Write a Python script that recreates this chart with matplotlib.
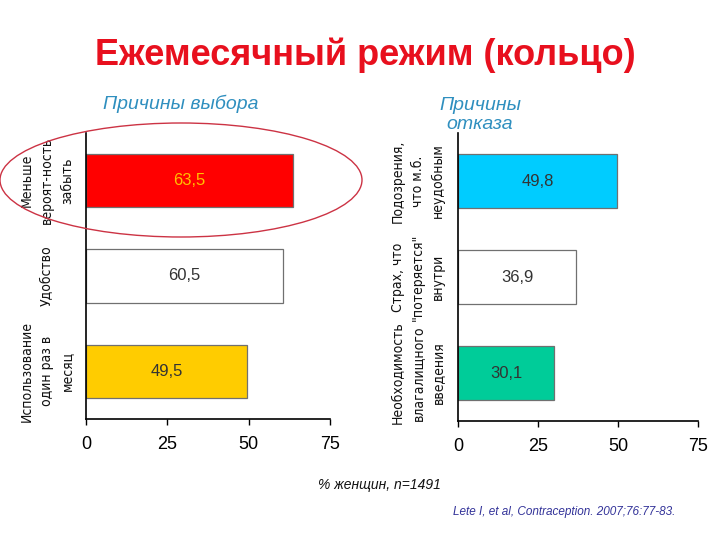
import matplotlib
matplotlib.use("Agg")
import matplotlib.pyplot as plt
from matplotlib.patches import Ellipse

# ── Data ──────────────────────────────────────────────────────────────────────
title = "Ежемесячный режим (кольцо)"
left_cats = ["Меньше\nвероят-ность\nзабыть", "Удобство", "Использование\nодин раз в\nмесяц"]
left_vals = [63.5, 60.5, 49.5]
left_colors = ["#FF0000", "#FFFFFF", "#FFCC00"]
left_text_colors = ["#FFC000", "#333333", "#333333"]

right_cats = ["Подозрения,\nчто м.б.\nнеудобным", "Страх, что\n\"потеряется\"\nвнутри",
              "Необходимость\nвлагалищного\nвведения"]
right_vals = [49.8, 36.9, 30.1]
right_colors = ["#00CCFF", "#FFFFFF", "#00CC99"]
right_text_colors = ["#333333", "#333333", "#333333"]

x_ticks = [0, 25, 50, 75]

SANS = ["Liberation Sans", "DejaVu Sans"]
BLUE = "#2F8FBF"

fig = plt.figure(figsize=(7.2, 5.4), dpi=100)
W, H = 720, 540


def px_axes(x0, y0, x1, y1):
    return fig.add_axes([x0 / W, 1 - y1 / H, (x1 - x0) / W, (y1 - y0) / H])


def draw_panel(ax, cats, vals, colors, tcolors, label_x):
    ypos = list(range(len(cats)))
    ax.barh(ypos, vals, height=0.56, color=colors, edgecolor="#707070", linewidth=0.9)
    for y, v, tc in zip(ypos, vals, tcolors):
        ax.text(v / 2, y, f"{v:.1f}".replace(".", ","), ha="center", va="center",
                fontsize=12, color=tc, family=SANS)
    for y, c in zip(ypos, cats):
        ax.text(label_x, y, c, transform=ax.get_yaxis_transform(), rotation=90,
                ha="center", va="center", multialignment="center",
                fontsize=10, linespacing=1.55, family="DejaVu Sans",
                fontstretch="condensed", color="#111111")
    ax.set_ylim(2.5, -0.5)
    ax.set_xlim(0, 75)
    ax.set_xticks(x_ticks)
    ax.set_xticklabels([str(t) for t in x_ticks], fontsize=13, family=SANS)
    ax.set_yticks([])
    ax.tick_params(axis="x", direction="out", length=4, width=1, pad=8)
    for s in ["top", "right"]:
        ax.spines[s].set_visible(False)
    for s in ["left", "bottom"]:
        ax.spines[s].set_linewidth(1.2)


ax1 = px_axes(86, 133, 330, 419)
draw_panel(ax1, left_cats, left_vals, left_colors, left_text_colors, -0.16)

ax2 = px_axes(458, 133, 698, 421)
draw_panel(ax2, right_cats, right_vals, right_colors, right_text_colors, -0.167)

# Titles and notes
fig.text(365 / W, 1 - 55 / H, title, ha="center", va="center", fontsize=26,
         fontweight="bold", color="#E8101E", family=SANS)
fig.text(181 / W, 1 - 104 / H, "Причины выбора", ha="center", va="center",
         fontsize=14, style="italic", color=BLUE, family=SANS)
fig.text(480 / W, 1 - 115 / H, "Причины\nотказа", ha="center", va="center",
         fontsize=14, style="italic", color=BLUE, linespacing=1.15, family=SANS)
fig.text(318 / W, 1 - 485 / H, "% женщин, n=1491", ha="left", va="center",
         fontsize=10, style="italic", color="#111111", family=SANS)
fig.text(453 / W, 1 - 512 / H, "Lete I, et al, Contraception. 2007;76:77-83.",
         ha="left", va="center", fontsize=8.5, style="italic", color="#333399",
         family=SANS)

# Highlight ellipse around the first reason
ell = Ellipse((181 / W, 1 - 180 / H), 362 / W, 114 / H, transform=fig.transFigure,
              fill=False, edgecolor="#CC3344", linewidth=1.0, clip_on=False)
fig.add_artist(ell)

fig.savefig("out.png", dpi=100)
